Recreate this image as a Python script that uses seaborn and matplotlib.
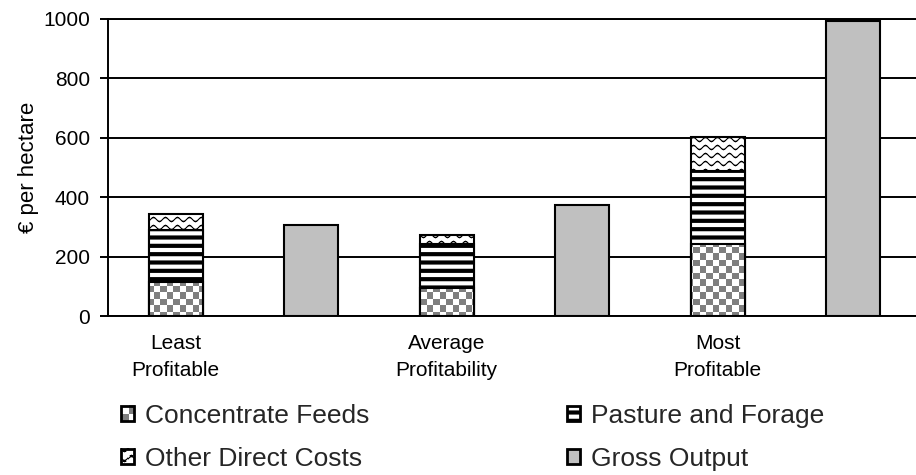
import numpy as np
import pandas as pd
import matplotlib
matplotlib.use('Agg')
import matplotlib.pyplot as plt
import seaborn as sns
from matplotlib.patches import Patch, Rectangle
from matplotlib.image import BboxImage
from matplotlib.transforms import Bbox, TransformedBbox
from matplotlib.legend_handler import HandlerBase

# values (euro per hectare)
groups = ['Least\nProfitable', 'Average\nProfitability', 'Most\nProfitable']
concentrate = [116, 95, 242]
pasture = [172, 148, 245]
other = [55, 30, 116]
gross = [305, 373, 992]

cost_slots = ['Least costs', 'Average costs', 'Most costs']
gross_slots = ['Least gross', 'Average gross', 'Most gross']
slots = ['Least costs', 'Least gross', 'Average costs', 'Average gross',
         'Most costs', 'Most gross']

costs = pd.DataFrame({'slot': cost_slots, 'conc': concentrate,
                      'pasture': pasture, 'other': other})
costs['conc_past'] = costs['conc'] + costs['pasture']
costs['total'] = costs['conc_past'] + costs['other']
out = pd.DataFrame({'slot': gross_slots, 'gross': gross})

sns.set_theme(style='white')
plt.rcParams['font.family'] = ['Liberation Sans', 'DejaVu Sans']
plt.rcParams['hatch.linewidth'] = 3.0


def checker(w, h, cell=6.5):
    yy, xx = np.indices((h, w))
    on = ((xx // cell + yy // cell) % 2).astype(bool)
    img = np.ones((h, w, 3))
    img[on] = 0.5
    return img


def waves(w, h, period=12.0, spacing=8.0, amp=2.0, thick=1.6):
    yy, xx = np.indices((h, w)).astype(float)
    d = (yy - amp * np.sin(2 * np.pi * xx / period)) % spacing
    dist = np.minimum(d, spacing - d)
    val = np.clip(dist - thick / 2 + 0.5, 0, 1)
    return np.dstack([val, val, val])


def add_texture(ax, patches, img, z):
    for p in patches:
        im = BboxImage(ax.bbox, interpolation='nearest')
        im.set_data(img)
        im.set_zorder(z)
        ax.add_artist(im)
        # clip after adding, add_artist would reset it to the axes patch
        im.set_clip_path(p)


class TextureHandler(HandlerBase):
    def __init__(self, img):
        super().__init__()
        self.img = img

    def create_artists(self, legend, orig_handle, xdescent, ydescent,
                       width, height, fontsize, trans):
        box = Bbox.from_bounds(-xdescent, -ydescent, width, height)
        im = BboxImage(TransformedBbox(box, trans), interpolation='nearest')
        im.set_data(self.img)
        rect = Rectangle((-xdescent, -ydescent), width, height,
                         facecolor='none', edgecolor='black', lw=2,
                         transform=trans)
        return [im, rect]


fig = plt.figure(figsize=(9.16, 4.75), dpi=100)
ax = fig.add_axes([108 / 916, 1 - 316 / 475, 813 / 916, 297 / 475])
W, H = int(round(ax.bbox.width)), int(round(ax.bbox.height))


def draw(data, col, **style):
    n0 = len(ax.patches)
    sns.barplot(data=data, x='slot', y=col, order=slots, width=0.4,
                errorbar=None, ax=ax)
    new = ax.patches[n0:]
    for p in new:
        p.set(**style)
    return new


# stacked costs drawn as overlapping cumulative bars
tot_bars = draw(costs, 'total', facecolor='none', edgecolor='black',
                linewidth=1.5, zorder=2)
add_texture(ax, tot_bars, waves(W, H), 1.9)
past_bars = draw(costs, 'conc_past', facecolor='white', edgecolor='black',
                 linewidth=1.5, hatch='--', zorder=3)
conc_bars = draw(costs, 'conc', facecolor='none', edgecolor='black',
                 linewidth=1.5, zorder=4)
add_texture(ax, conc_bars, checker(W, H), 3.9)
draw(out, 'gross', facecolor='#c0c0c0', edgecolor='black', linewidth=1.5,
     zorder=2)

ax.set_xlim(-0.5, 5.5)
ax.set_ylim(0, 1000)
ax.set_xticks(np.arange(-0.5, 5.6, 1))
ax.set_xticklabels([])
ax.set_xticks([0, 2, 4], minor=True)
ax.set_xticklabels(groups, minor=True)
for t in ax.get_xticklabels(minor=True):
    t.set_linespacing(1.5)
ax.tick_params(axis='x', which='major', direction='out', length=6,
               width=1.4, color='black')
ax.tick_params(axis='x', which='minor', length=0, pad=13, labelsize=15,
               labelcolor='black')
ax.set_yticks(range(0, 1001, 200))
ax.tick_params(axis='y', direction='out', length=6, width=1.4, pad=7,
               labelsize=15, color='black', labelcolor='black', left=True)
ax.set_xlabel('')
ax.set_ylabel('€ per hectare', fontsize=16, color='black', labelpad=3)

ax.set_axisbelow(True)
ax.yaxis.grid(True, color='black', linewidth=1.4)
ax.xaxis.grid(False)
for side in ['left', 'bottom', 'top']:
    ax.spines[side].set_color('black')
    ax.spines[side].set_linewidth(1.4)
ax.spines['right'].set_visible(False)

h_conc = Patch()
h_other = Patch()
h_past = Patch(facecolor='white', edgecolor='black', hatch='--', lw=2)
h_gross = Patch(facecolor='#c0c0c0', edgecolor='black', lw=2)
fig.legend(handles=[h_conc, h_other, h_past, h_gross],
           labels=['Concentrate Feeds', 'Other Direct Costs',
                   'Pasture and Forage', 'Gross Output'],
           ncol=2, loc='upper left', bbox_to_anchor=(121 / 916, 1 - 404 / 475),
           frameon=False, fontsize=19, handlelength=0.5, handleheight=0.5,
           handletextpad=0.4, columnspacing=7.5, labelspacing=0.73,
           borderpad=0, borderaxespad=0,
           handler_map={h_conc: TextureHandler(checker(13, 13)),
                        h_other: TextureHandler(waves(13, 13))})

fig.savefig('out.png', dpi=100)
